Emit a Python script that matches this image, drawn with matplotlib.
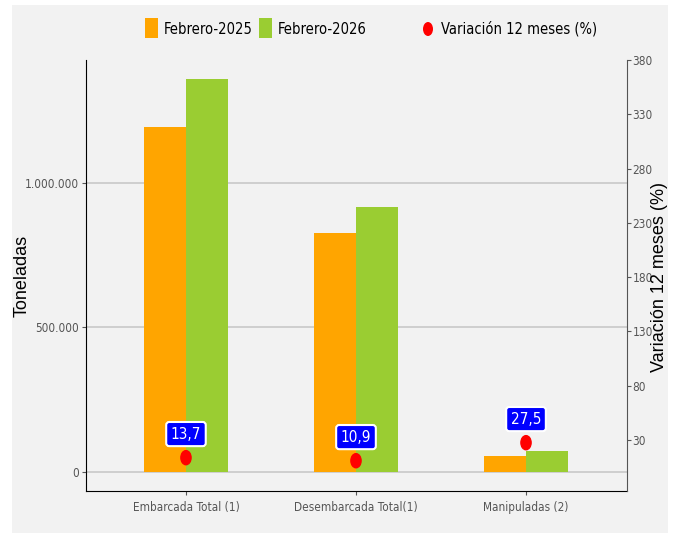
import numpy as np
import matplotlib
matplotlib.use("Agg")
import matplotlib.pyplot as plt
from matplotlib.patches import Rectangle, Ellipse
from matplotlib import font_manager

# datos
categorias = ["Embarcada Total (1)", "Desembarcada Total(1)", "Manipuladas (2)"]
feb_2025 = [1194000, 827000, 56000]
feb_2026 = [1360000, 917000, 71400]
variacion = [13.7, 10.9, 27.5]
etiquetas_var = ["13,7", "10,9", "27,5"]


# fuente estrecha (normal, no negrita) si existe
def es_normal(f):
    return f.style == "normal" and f.weight in (400, "normal", "regular", "book")


fl = font_manager.fontManager.ttflist
names = {f.name for f in fl}
cond = [f for f in fl if es_normal(f) and ("condensed" in str(f.stretch).lower()
                                          or "narrow" in f.name.lower() or "ondensed" in f.name)]
if "Liberation Sans Narrow" in names:
    NARROW = dict(family="Liberation Sans Narrow")
elif cond:
    NARROW = dict(fname=cond[0].fname)
else:
    NARROW = dict(family="Liberation Sans", stretch="condensed")


def fp(size):
    return font_manager.FontProperties(size=size, **NARROW)


GRIS = "#f2f2f2"
NAR = "#ffa500"
VER = "#9acd32"

fig = plt.figure(figsize=(6.75, 5.34), dpi=100)
fig.patch.set_facecolor("white")
bg = fig.add_axes([12 / 675, 1 - 533 / 534, (668 - 12) / 675, (533 - 5) / 534], zorder=-10)
bg.set_axis_off()
bg.add_patch(Rectangle((0, 0), 1, 1, transform=bg.transAxes, facecolor=GRIS, edgecolor="none"))

ax = fig.add_axes([86 / 675, 1 - 491 / 534, (627 - 86) / 675, (491 - 60) / 534])
ax.set_facecolor(GRIS)
x = np.arange(len(categorias))
w = 0.247
ax.bar(x - w / 2, feb_2025, w, color=NAR, zorder=3)
ax.bar(x + w / 2, feb_2026, w, color=VER, zorder=3)
ax.set_xlim(-0.588, 2.594)
ax.set_ylim(-65700, 1425000)
ax.set_yticks([0, 500000, 1000000])
ax.set_yticklabels(["0", "500.000", "1.000.000"])
ax.yaxis.grid(True, color="#c8c8c8", linewidth=1.2, zorder=1)
ax.set_axisbelow(True)
ax.set_xticks(x)
ax.set_xticklabels(categorias)
for lab in ax.get_xticklabels() + ax.get_yticklabels():
    lab.set_fontproperties(fp(8.5))
    lab.set_color("#555555")
ax.tick_params(axis="both", length=3, color="#555555", pad=2)
ax.tick_params(axis="x", pad=4)
ax.spines["top"].set_visible(False)
ax.spines["right"].set_visible(False)
ax.spines["left"].set_color("black")
ax.spines["bottom"].set_color("black")

ax2 = ax.twinx()
ax2.set_ylim(-17, 380)
ax2.set_yticks([30, 80, 130, 180, 230, 280, 330, 380])
for lab in ax2.get_yticklabels():
    lab.set_fontproperties(fp(8.5))
    lab.set_color("#555555")
ax2.tick_params(axis="y", length=3, color="#555555", pad=1)
for s in ["top", "left", "bottom"]:
    ax2.spines[s].set_visible(False)
ax2.spines["right"].set_color("#555555")

# titulos de ejes
fig.text(22 / 675, 1 - 276 / 534, "Toneladas", rotation=90, ha="center", va="center",
         fontfamily="Liberation Sans", fontsize=13)
fig.text(660 / 675, 1 - 277 / 534, "Variación 12 meses (%)", rotation=90, ha="center", va="center",
         fontfamily="Liberation Sans", fontsize=13)

# puntos y etiquetas
for xi, v, t in zip(x, variacion, etiquetas_var):
    ax2.add_patch(Ellipse((xi, v), 0.06, 13, color="red", zorder=5))
    ax2.annotate(t, (xi, v), xytext=(0, 17), textcoords="offset points", ha="center", va="center",
                 fontproperties=fp(11), color="white", zorder=6,
                 bbox=dict(boxstyle="round,pad=0.3,rounding_size=0.2", facecolor="#0000ff",
                           edgecolor="white", linewidth=1.5))

# leyenda
fig.patches.append(Rectangle((145 / 675, 1 - 38 / 534), 13 / 675, 20 / 534, transform=fig.transFigure,
                             facecolor=NAR, edgecolor="none"))
fig.text(164 / 675, 1 - 29 / 534, "Febrero-2025", fontproperties=fp(10.5), va="center")
fig.patches.append(Rectangle((259 / 675, 1 - 38 / 534), 13 / 675, 20 / 534, transform=fig.transFigure,
                             facecolor=VER, edgecolor="none"))
fig.text(278 / 675, 1 - 29 / 534, "Febrero-2026", fontproperties=fp(10.5), va="center")
fig.patches.append(Ellipse((428 / 675, 1 - 29 / 534), 10 / 675, 14 / 534, transform=fig.transFigure,
                           facecolor="red", edgecolor="none"))
fig.text(441 / 675, 1 - 29 / 534, "Variación 12 meses (%)", fontproperties=fp(10.5), va="center")

fig.savefig("out.png", dpi=100)
